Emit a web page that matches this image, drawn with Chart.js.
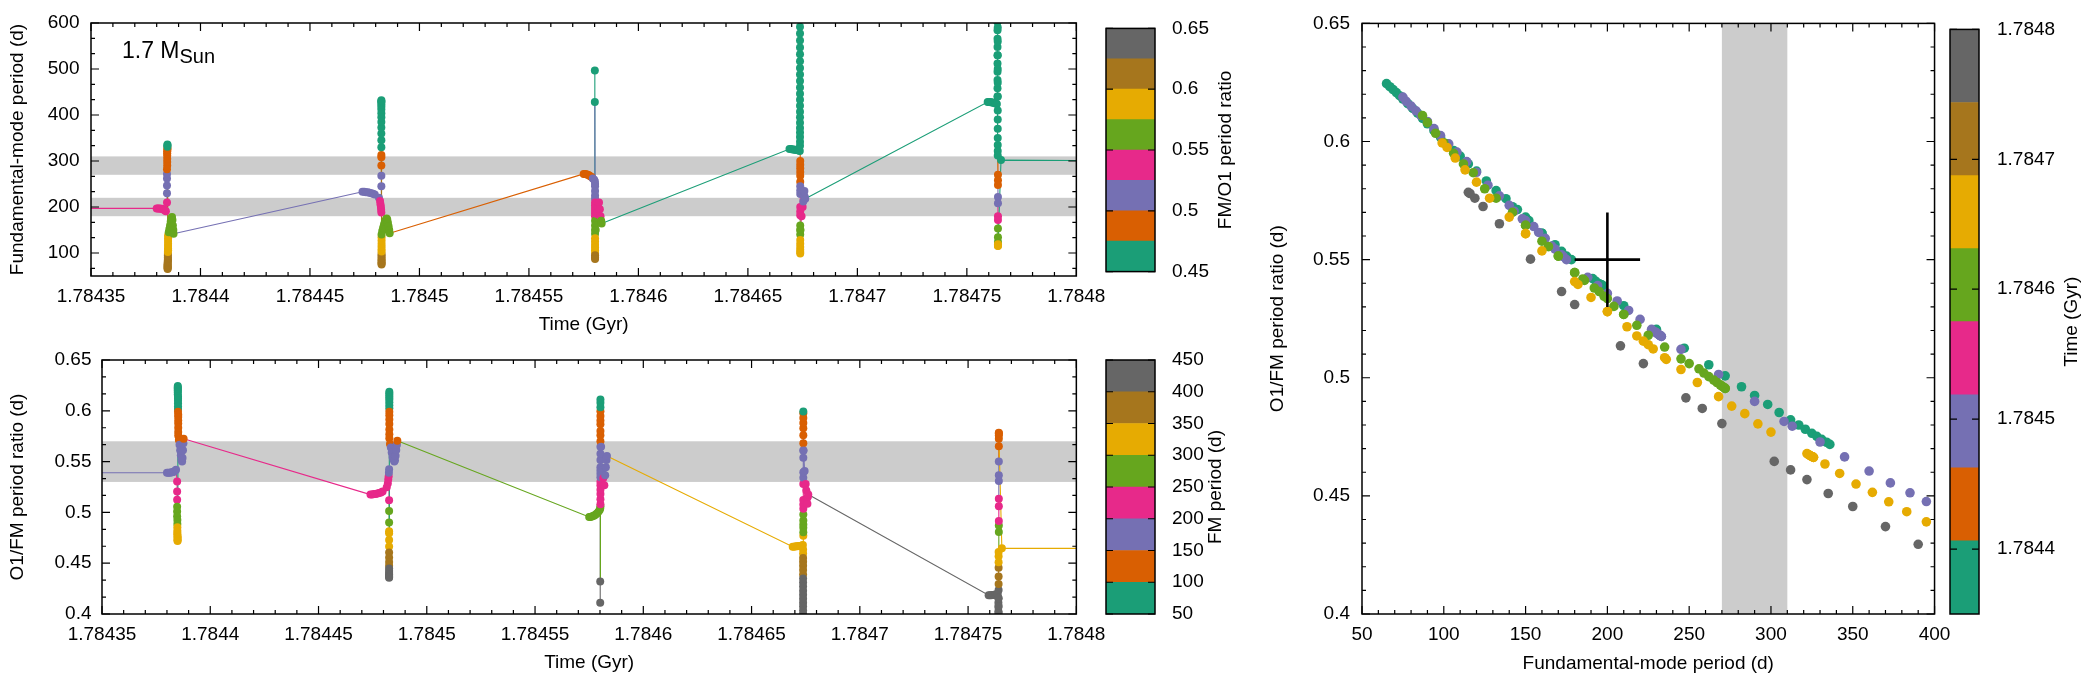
<!DOCTYPE html>
<html>
<head>
<meta charset="utf-8">
<script src="https://cdn.jsdelivr.net/npm/chart.js@4.4.1/dist/chart.umd.min.js"></script>
<style>
  html, body { margin: 0; padding: 0; background: #fff; overflow: hidden; }
  body { width: 2100px; height: 675px; position: relative; }
  canvas { position: absolute; }
</style>
</head>
<body>
<canvas id="fmTime" width="1115" height="340" style="left:0;top:0"></canvas>
<canvas id="ratioCb" width="200" height="300" style="left:1100px;top:0"></canvas>
<canvas id="ratioTime" width="1115" height="345" style="left:0;top:330px"></canvas>
<canvas id="periodCb" width="200" height="345" style="left:1100px;top:330px"></canvas>
<canvas id="ratioPeriod" width="698" height="678" style="left:1262px;top:0"></canvas>
<canvas id="timeCb" width="156" height="675" style="left:1944px;top:0"></canvas>
<script>
// Dark2, 8 bands per colour bar
const palette = ['#1b9e77', '#d95f02', '#7570b3', '#e7298a', '#66a61e', '#e6ab02', '#a6761d', '#666666'];

// model track: time (Gyr), fundamental-mode period (d), O1/FM period ratio
const leadTime = [1.7843];
const leadPeriod = [197];
const leadRatio = [0.539];

const p1Time = [1.78438, 1.7843806, 1.7843812, 1.7843818, 1.7843824, 1.784383, 1.7843836, 1.7843842,
  1.7843847, 1.7843847, 1.7843847, 1.7843847, 1.7843847, 1.7843847, 1.7843848, 1.7843848, 1.7843848,
  1.7843848, 1.7843848, 1.7843848, 1.7843849, 1.7843849, 1.7843849, 1.7843849, 1.7843849,
  1.784385, 1.784385, 1.784385, 1.784385, 1.784385, 1.784385, 1.784385,
  1.7843851, 1.7843851, 1.7843851, 1.7843851, 1.7843851, 1.7843851, 1.7843851,
  1.7843852, 1.7843852, 1.7843852, 1.7843852, 1.7843852, 1.7843852, 1.7843852,
  1.7843855, 1.7843858, 1.7843861, 1.7843864, 1.7843867, 1.784387, 1.7843872, 1.7843874, 1.7843876, 1.7843877];
const p1Period = [197, 197, 197, 196, 196, 195, 193, 191,
  210, 230, 247, 262, 272, 282, 290, 298, 305, 312, 317, 321, 325, 328, 331, 334, 336,
  65, 67, 69, 71, 73, 75, 78, 81, 84, 87, 90, 94, 98, 102, 106, 110, 115, 120, 126, 132, 138,
  145, 152, 160, 168, 175, 178, 172, 160, 150, 142];
const p1Ratio = [0.539, 0.539, 0.5391, 0.5393, 0.5395, 0.5398, 0.5408, 0.542,
  0.5305, 0.5205, 0.5125, 0.5055, 0.5008, 0.4962, 0.4925, 0.4887, 0.4853, 0.4822, 0.48, 0.4782, 0.4765, 0.4752, 0.4739, 0.4727, 0.4718,
  0.6245, 0.6232, 0.622, 0.6207, 0.6194, 0.618, 0.616, 0.614, 0.612, 0.6098, 0.6075, 0.6046, 0.6018, 0.599, 0.5962, 0.5938, 0.5905, 0.5875, 0.5833, 0.5792, 0.5758,
  0.5712, 0.5665, 0.5612, 0.5563, 0.5515, 0.55, 0.5535, 0.5612, 0.568, 0.5724];

const p2Time = [1.784474, 1.7844748, 1.7844756, 1.7844764, 1.7844772, 1.784478, 1.7844788, 1.7844796,
  1.7844815, 1.784482, 1.7844822, 1.7844824, 1.7844825, 1.7844826,
  1.7844826, 1.7844826, 1.7844826, 1.7844826, 1.7844826, 1.7844826, 1.7844826, 1.7844826, 1.7844826,
  1.7844826, 1.7844826, 1.7844826, 1.7844826, 1.7844826, 1.7844826, 1.7844826, 1.7844826, 1.7844826,
  1.7844827, 1.7844827, 1.7844827, 1.7844827, 1.7844827, 1.7844827, 1.7844827, 1.7844827,
  1.7844827, 1.7844827, 1.7844827, 1.7844827, 1.7844827, 1.7844827, 1.7844827,
  1.784483, 1.7844834, 1.7844838, 1.7844842, 1.7844846, 1.784485, 1.7844853, 1.7844856, 1.7844859, 1.7844862, 1.7844864];
const p2Period = [233, 233, 232, 232, 231, 230, 229, 227,
  220, 213, 206, 200, 194, 188,
  245, 268, 290, 308, 313, 330, 345, 360, 373, 385, 395, 404, 412, 418, 423, 427, 430, 432,
  75, 77, 80, 83, 86, 90, 94, 98, 103, 108, 114, 120, 127, 134, 140,
  148, 155, 162, 168, 172, 175, 173, 166, 158, 150, 143];
const p2Ratio = [0.5175, 0.5175, 0.518, 0.518, 0.5185, 0.519, 0.5195, 0.5205,
  0.5247, 0.5285, 0.5325, 0.5357, 0.539, 0.5425,
  0.512, 0.5014, 0.49, 0.4815, 0.4795, 0.4728, 0.4665, 0.4605, 0.4555, 0.4513, 0.4476, 0.4448, 0.4422, 0.4403, 0.4388, 0.4375, 0.4365, 0.4358,
  0.6188, 0.617, 0.615, 0.613, 0.611, 0.6085, 0.6055, 0.6025, 0.599, 0.5955, 0.5915, 0.587, 0.5815, 0.577, 0.573,
  0.5673, 0.564, 0.559, 0.5545, 0.552, 0.55, 0.5513, 0.5557, 0.5615, 0.5665, 0.5705];

const p3Time = [1.784575, 1.7845756, 1.7845762, 1.7845768, 1.7845774, 1.784578, 1.7845786, 1.7845792, 1.7845798, 1.7845801,
  1.7845801, 1.7845801,
  1.7845802, 1.7845802, 1.7845802, 1.7845802, 1.7845802, 1.7845802, 1.7845802, 1.7845802, 1.7845802, 1.7845802, 1.7845802, 1.7845802,
  1.7845802, 1.7845802, 1.7845802, 1.7845802, 1.7845802, 1.7845802, 1.7845802, 1.7845802, 1.7845802, 1.7845802, 1.7845802, 1.7845802,
  1.7845805, 1.784581, 1.7845815, 1.784582, 1.7845824, 1.7845827, 1.784583, 1.7845832];
const p3Period = [272, 272, 271, 270, 269, 267, 265, 262, 259, 256,
  497, 428,
  250, 245, 235, 225, 218, 210, 204, 198, 192, 186, 180, 170, 160, 150, 142, 132, 125, 118, 112, 106, 100, 95, 90, 87,
  150, 185, 200, 210, 195, 180, 170, 164];
const p3Ratio = [0.4955, 0.4955, 0.496, 0.4965, 0.497, 0.498, 0.499, 0.5005, 0.502, 0.5038,
  0.411, 0.432,
  0.506, 0.508, 0.513, 0.518, 0.5222, 0.5268, 0.5302, 0.5345, 0.538, 0.5412, 0.5445, 0.5515, 0.5578, 0.5645, 0.57, 0.576, 0.58, 0.5868, 0.5905, 0.595, 0.5995, 0.6035, 0.608, 0.611,
  0.5645, 0.5418, 0.5335, 0.5268, 0.5365, 0.5445, 0.5515, 0.5555];

const p4Time = [1.784669, 1.7846697, 1.7846704, 1.7846711, 1.7846718, 1.7846725, 1.7846732, 1.7846737,
  1.7846738, 1.7846738, 1.7846738, 1.7846738, 1.7846738, 1.7846738, 1.7846738, 1.7846738, 1.7846738, 1.7846738, 1.7846738, 1.7846738,
  1.7846738, 1.7846738, 1.7846738, 1.7846738, 1.7846738, 1.7846738, 1.7846738, 1.7846738, 1.7846738, 1.7846738, 1.7846738,
  1.7846739, 1.7846739, 1.7846739, 1.7846739, 1.7846739, 1.7846739, 1.7846739, 1.7846739, 1.7846739, 1.7846739, 1.7846739,
  1.7846739, 1.7846739, 1.7846739, 1.7846739, 1.7846739, 1.7846739, 1.7846739, 1.7846739, 1.7846739, 1.7846739,
  1.784674, 1.7846745, 1.784675, 1.7846753, 1.7846756, 1.7846758, 1.784676, 1.7846762];
const p4Period = [326, 326, 325, 325, 324, 324, 323, 322,
  333, 342, 352, 362, 372, 383, 395, 407, 420, 433, 446, 460, 474, 488, 502, 517, 532, 547, 562, 577, 592, 607, 620,
  300, 292, 284, 276, 268, 255, 245, 236, 228, 200, 190, 182, 160, 150, 140, 128, 120, 113, 107, 102, 99,
  150, 180, 200, 212, 225, 235, 222, 218];
const p4Ratio = [0.4663, 0.4663, 0.4667, 0.4667, 0.467, 0.467, 0.4675, 0.4679,
  0.4635, 0.4595, 0.455, 0.4515, 0.4475, 0.4433, 0.439, 0.435, 0.431, 0.427, 0.423, 0.419, 0.415, 0.411, 0.4075, 0.4035, 0.4, 0.3965, 0.393, 0.3895, 0.386, 0.3825, 0.3795,
  0.477, 0.4805, 0.4848, 0.488, 0.492, 0.498, 0.5035, 0.5078, 0.5122, 0.528, 0.534, 0.5395, 0.5537, 0.561, 0.568, 0.576, 0.5828, 0.588, 0.593, 0.5975, 0.5994,
  0.561, 0.5407, 0.528, 0.5216, 0.514, 0.5085, 0.5155, 0.5177];

const p5Time = [1.7847595, 1.7847601, 1.7847607, 1.7847613, 1.7847619, 1.7847625, 1.7847631, 1.7847637,
  1.784764, 1.784764, 1.784764, 1.784764, 1.784764, 1.784764, 1.784764, 1.784764, 1.784764, 1.784764, 1.784764,
  1.7847641, 1.7847641, 1.7847641, 1.7847641, 1.7847641, 1.7847641, 1.7847641, 1.7847641, 1.7847641, 1.7847641, 1.7847641, 1.7847641, 1.7847641,
  1.7847642, 1.7847642, 1.7847642, 1.7847642, 1.7847642, 1.7847642, 1.7847642, 1.7847642, 1.7847642, 1.7847642, 1.7847642, 1.7847642, 1.7847642,
  1.7847656];
const p5Period = [428, 428, 428, 427, 427, 426, 425, 424,
  440, 458, 476, 494, 512, 530, 548, 566, 584, 602, 620,
  590, 560, 530, 500, 470, 440, 410, 390, 370, 350, 335, 322, 312,
  270, 258, 248, 222, 208, 180, 172, 153, 134, 124, 119, 116, 115,
  302];
const p5Ratio = [0.4185, 0.4185, 0.4185, 0.4188, 0.4188, 0.4192, 0.4195, 0.4198,
  0.4155, 0.411, 0.4068, 0.4028, 0.399, 0.3952, 0.3915, 0.388, 0.3845, 0.381, 0.3778,
  0.3835, 0.3893, 0.3952, 0.4012, 0.4078, 0.4155, 0.4235, 0.4295, 0.437, 0.4455, 0.451, 0.4569, 0.461,
  0.4806, 0.487, 0.4915, 0.506, 0.5135, 0.531, 0.5365, 0.5502, 0.5652, 0.5725, 0.576, 0.578, 0.5785,
  0.4646];

const tailTime = [1.78485];
const tailPeriod = [300];
const tailRatio = [0.4645];

const timeGyr = [].concat(leadTime, p1Time, p2Time, p3Time, p4Time, p5Time, tailTime);
const fmPeriod = [].concat(leadPeriod, p1Period, p2Period, p3Period, p4Period, p5Period, tailPeriod);
const periodRatio = [].concat(leadRatio, p1Ratio, p2Ratio, p3Ratio, p4Ratio, p5Ratio, tailRatio);

// colour-bar ranges
const ratioRange = [0.45, 0.65];
const periodRange = [50, 450];
const timeRange = [1.78435, 1.7848];

// tick labels
const timeTicks = [1.78435, 1.7844, 1.78445, 1.7845, 1.78455, 1.7846, 1.78465, 1.7847, 1.78475, 1.7848];
const periodTicks = [100, 200, 300, 400, 500, 600];
const ratioTicks = [0.4, 0.45, 0.5, 0.55, 0.6, 0.65];
const periodTicksRight = [50, 100, 150, 200, 250, 300, 350, 400];
const ratioCbTicks = [0.45, 0.5, 0.55, 0.6, 0.65];
const periodCbTicks = [50, 100, 150, 200, 250, 300, 350, 400, 450];
const timeCbTicks = [1.7844, 1.7845, 1.7846, 1.7847, 1.7848];

// observed star: shaded ranges and error cross
const periodBands = [[180, 220], [270, 310]];
const ratioBands = [[0.53, 0.57]];
const obsPeriod = [180, 200, 220];
const obsRatio = [0.53, 0.55, 0.57];

const font = { family: 'Liberation Sans', size: 19 };
Chart.defaults.color = '#000';
Chart.defaults.font.family = 'Liberation Sans';

function bandColor(v, range) {
  const i = Math.floor((v - range[0]) / (range[1] - range[0]) * palette.length);
  return palette[Math.max(0, Math.min(palette.length - 1, i))];
}
const fmtTime = v => String(+v.toFixed(5));
const fmtRatio = v => String(+v.toFixed(2));

// gnuplot-like box with inward ticks on all sides
const framePlugin = {
  id: 'frame',
  afterDraw(chart, args, o) {
    const { ctx, chartArea: a } = chart;
    ctx.save();
    ctx.strokeStyle = '#000';
    ctx.lineWidth = 1.2;
    const marks = (scale, minor, len, horiz) => {
      const vals = scale.ticks.map(t => t.value);
      const out = vals.map(v => [v, len]);
      if (minor) {
        const base = vals[0];
        for (let k = Math.ceil((scale.min - base) / minor - 1e-6); base + k * minor <= scale.max + minor * 1e-6; k++) {
          const v = base + k * minor;
          if (!vals.some(m => Math.abs(m - v) < minor * 0.01)) out.push([v, len / 2]);
        }
      }
      for (const [v, l] of out) {
        const p = scale.getPixelForValue(v);
        ctx.beginPath();
        if (horiz) {
          ctx.moveTo(p, a.bottom); ctx.lineTo(p, a.bottom - l);
          ctx.moveTo(p, a.top); ctx.lineTo(p, a.top + l);
        } else {
          ctx.moveTo(a.left, p); ctx.lineTo(a.left + l, p);
          ctx.moveTo(a.right, p); ctx.lineTo(a.right - l, p);
        }
        ctx.stroke();
      }
    };
    if (o.xMinor !== undefined) marks(chart.scales.x, o.xMinor, o.len, true);
    if (o.yMinor !== undefined) marks(chart.scales.y, o.yMinor, o.len, false);
    ctx.lineWidth = 1.5;
    ctx.strokeRect(a.left, a.top, a.right - a.left, a.bottom - a.top);
    ctx.restore();
  }
};

const bandsPlugin = {
  id: 'bands',
  beforeDatasetsDraw(chart, args, o) {
    const { ctx, chartArea: a } = chart;
    const s = chart.scales[o.axis];
    ctx.save();
    ctx.beginPath();
    ctx.rect(a.left, a.top, a.right - a.left, a.bottom - a.top);
    ctx.clip();
    ctx.fillStyle = '#cccccc';
    for (const [lo, hi] of o.ranges) {
      const p0 = s.getPixelForValue(lo), p1 = s.getPixelForValue(hi);
      if (o.axis === 'y') ctx.fillRect(a.left, Math.min(p0, p1), a.right - a.left, Math.abs(p1 - p0));
      else ctx.fillRect(Math.min(p0, p1), a.top, Math.abs(p1 - p0), a.bottom - a.top);
    }
    ctx.restore();
  }
};

const massLabel = {
  id: 'massLabel',
  afterDraw(chart) {
    const { ctx, chartArea: a } = chart;
    ctx.save();
    ctx.fillStyle = '#000';
    ctx.textBaseline = 'alphabetic';
    ctx.font = '23px "Liberation Sans"';
    const x = a.left + 31, y = a.top + 35;
    ctx.fillText('1.7 M', x, y);
    const w = ctx.measureText('1.7 M').width;
    ctx.font = '20px "Liberation Sans"';
    ctx.fillText('Sun', x + w, y + 5);
    ctx.restore();
  }
};

// colour-bar titles read bottom to top
const cbTitle = {
  id: 'cbTitle',
  afterDraw(chart, args, o) {
    const { ctx, chartArea: a } = chart;
    ctx.save();
    ctx.translate(a.right + o.offset, (a.top + a.bottom) / 2);
    ctx.rotate(-Math.PI / 2);
    ctx.font = '19px "Liberation Sans"';
    ctx.fillStyle = '#000';
    ctx.textAlign = 'center';
    ctx.textBaseline = 'middle';
    ctx.fillText(o.text, 0, 0);
    ctx.restore();
  }
};

function linAxis(o) {
  return {
    type: 'linear', position: o.position, min: o.min, max: o.max, bounds: 'data',
    afterBuildTicks: s => { s.ticks = o.ticks.map(v => ({ value: v })); },
    afterFit: s => { if (s.isHorizontal()) s.height = o.size; else s.width = o.size; },
    grid: { display: false, drawTicks: false },
    border: { display: false },
    ticks: { font, color: '#000', padding: o.pad, autoSkip: false, maxRotation: 0, callback: o.fmt },
    title: { display: !!o.title, text: o.title, font, color: '#000', padding: o.titlePad || 0 }
  };
}

function timePanel(id, yValues, colorValues, colorRange, pad, frameOpts, bands, xAxis, yAxis, extra) {
  const colors = colorValues.map(v => bandColor(v, colorRange));
  new Chart(document.getElementById(id), {
    type: 'scatter',
    data: {
      datasets: [{
        data: timeGyr.map((t, i) => ({ x: t, y: yValues[i] })),
        showLine: true,
        borderWidth: 1.1,
        borderColor: colors[0],
        segment: { borderColor: c => colors[c.p1DataIndex] },
        pointRadius: 4,
        pointHoverRadius: 4,
        pointBorderWidth: 0,
        pointBackgroundColor: colors
      }]
    },
    options: {
      responsive: false, animation: false, events: [],
      layout: { padding: pad },
      plugins: { legend: { display: false }, tooltip: { enabled: false }, bands, frame: frameOpts },
      scales: { x: linAxis(xAxis), y: linAxis(yAxis) }
    },
    plugins: [bandsPlugin, framePlugin].concat(extra || [])
  });
}

timePanel('fmTime', fmPeriod, periodRatio, ratioRange,
  { left: 0, top: 23, right: 34, bottom: 3.6 },
  { xMinor: 0.00001, yMinor: 100 / 3, len: 8 },
  { axis: 'y', ranges: periodBands },
  { position: 'bottom', min: timeRange[0], max: timeRange[1], ticks: timeTicks, fmt: fmtTime, pad: 9.6, size: 60.4, title: 'Time (Gyr)' },
  { position: 'left', min: 50, max: 600, ticks: periodTicks, fmt: v => String(v), pad: 11.5, size: 91, title: 'Fundamental-mode period (d)', titlePad: 6.6 },
  [massLabel]);

timePanel('ratioTime', periodRatio, fmPeriod, periodRange,
  { left: 0, top: 30, right: 34, bottom: 0.6 },
  { xMinor: 0.00001, yMinor: 0.05 / 3, len: 8 },
  { axis: 'y', ranges: ratioBands },
  { position: 'bottom', min: timeRange[0], max: timeRange[1], ticks: timeTicks, fmt: fmtTime, pad: 9.6, size: 60.4, title: 'Time (Gyr)' },
  { position: 'left', min: 0.4, max: 0.65, ticks: ratioTicks, fmt: fmtRatio, pad: 10.5, size: 102, title: 'O1/FM period ratio (d)', titlePad: 6.6 });

// period–ratio diagram, coloured by time
const inWindow = timeGyr.map((t, i) => i).filter(i => timeGyr[i] >= timeRange[0] && timeGyr[i] <= timeRange[1]);
new Chart(document.getElementById('ratioPeriod'), {
  type: 'scatter',
  data: {
    datasets: [
      { data: [{ x: obsPeriod[0], y: obsRatio[1] }, { x: obsPeriod[2], y: obsRatio[1] }], showLine: true, borderColor: '#000', borderWidth: 2.6, pointRadius: 0 },
      { data: [{ x: obsPeriod[1], y: obsRatio[0] }, { x: obsPeriod[1], y: obsRatio[2] }], showLine: true, borderColor: '#000', borderWidth: 2.6, pointRadius: 0 },
      {
        data: inWindow.map(i => ({ x: fmPeriod[i], y: periodRatio[i] })),
        pointRadius: 4.8, pointHoverRadius: 4.8, pointBorderWidth: 0,
        pointBackgroundColor: inWindow.map(i => bandColor(timeGyr[i], timeRange))
      }
    ]
  },
  options: {
    responsive: false, animation: false, events: [],
    layout: { padding: { left: 0, top: 22, right: 24, bottom: 2.6 } },
    plugins: {
      legend: { display: false }, tooltip: { enabled: false },
      bands: { axis: 'x', ranges: [periodBands[1]] },
      frame: { xMinor: 10, yMinor: 0.01, len: 8 }
    },
    scales: {
      x: linAxis({ position: 'bottom', min: 50, max: 400, ticks: periodTicksRight, fmt: v => String(v), pad: 9.6, size: 61.4, title: 'Fundamental-mode period (d)' }),
      y: linAxis({ position: 'left', min: 0.4, max: 0.65, ticks: ratioTicks, fmt: fmtRatio, pad: 12, size: 100, title: 'O1/FM period ratio (d)', titlePad: 4.6 })
    }
  },
  plugins: [bandsPlugin, framePlugin]
});

function colorbar(id, range, ticks, fmt, pad, top, bottom, axisW, title, titleOffset) {
  const step = (range[1] - range[0]) / palette.length;
  new Chart(document.getElementById(id), {
    type: 'bar',
    data: {
      labels: [''],
      datasets: palette.map((c, i) => ({
        data: [[range[0] + i * step, range[0] + (i + 1) * step]],
        backgroundColor: c, borderWidth: 0, grouped: false, barPercentage: 1, categoryPercentage: 1
      }))
    },
    options: {
      responsive: false, animation: false, events: [],
      layout: { padding: { left: 6, top, right: 0, bottom } },
      plugins: { legend: { display: false }, tooltip: { enabled: false }, frame: { yMinor: 0, len: 7 }, cbTitle: { text: title, offset: titleOffset } },
      scales: {
        x: { display: false },
        y: linAxis({ position: 'right', min: range[0], max: range[1], ticks, fmt, pad, size: axisW })
      }
    },
    plugins: [framePlugin, cbTitle]
  });
}

colorbar('ratioCb', ratioRange, ratioCbTicks, fmtRatio, 17, 23, 24, 145, 'FM/O1 period ratio', 71);
colorbar('periodCb', periodRange, periodCbTicks, v => String(v), 17, 30, 61, 145, 'FM period (d)', 61);
colorbar('timeCb', timeRange, timeCbTicks, v => String(+v.toFixed(4)), 18, 22, 61, 121, 'Time (Gyr)', 93);
</script>
</body>
</html>
